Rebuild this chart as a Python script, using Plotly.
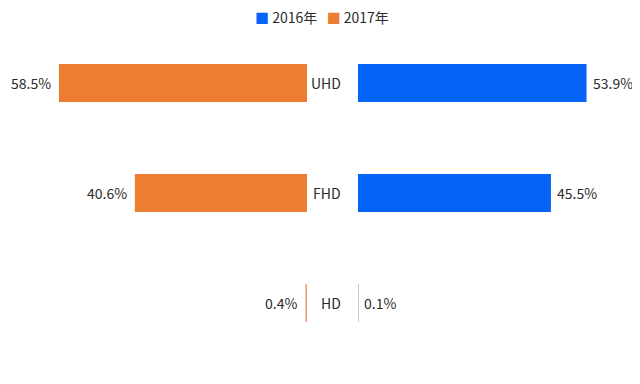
import plotly.graph_objects as go

categories = ["UHD", "FHD", "HD"]
values_2016 = [53.9, 45.5, 0.1]
values_2017 = [58.5, 40.6, 0.4]
series_names = ["2016年", "2017年"]

FONT = "Noto Sans CJK SC, Noto Sans, sans-serif"
BLUE = "#0563F7"
ORANGE = "#ED7D31"
TXT = "#2b2b2b"

# very thin bars render antialiased/light in the reference
blue_colors = [BLUE if v >= 1 else "#c6cad2" for v in values_2016]
orange_colors = [ORANGE if v >= 1 else "#eea37a" for v in values_2017]

fig = go.Figure()
fig.add_trace(go.Bar(
    name=series_names[0], y=categories, x=values_2016, orientation="h",
    marker=dict(color=blue_colors, line=dict(width=0)), xaxis="x2", yaxis="y",
    width=0.345, showlegend=False,
))
fig.add_trace(go.Bar(
    name=series_names[1], y=categories, x=values_2017, orientation="h",
    marker=dict(color=orange_colors, line=dict(width=0)), xaxis="x", yaxis="y",
    width=0.345, showlegend=False,
))

# value labels
for c, v in zip(categories, values_2016):
    fig.add_annotation(x=v, xref="x2", y=c, yref="y", text=f"{v}%", showarrow=False,
                       xanchor="left", xshift=4, font=dict(size=14, color=TXT, family=FONT))
for c, v in zip(categories, values_2017):
    fig.add_annotation(x=v, xref="x", y=c, yref="y", text=f"{v}%", showarrow=False,
                       xanchor="right", xshift=-6, font=dict(size=14, color=TXT, family=FONT))

# category labels
for c in categories:
    fig.add_annotation(x=335 / 640, xref="paper", y=c, yref="y", text=c,
                       showarrow=False, xanchor="right",
                       font=dict(size=14, color=TXT, family=FONT))

# legend
fig.add_annotation(
    x=314 / 640, xref="paper", y=1 - 9 / 384, yref="paper", showarrow=False,
    xanchor="center", yanchor="middle",
    text=(f'<span style="color:{BLUE}">■</span>&nbsp;{series_names[0]}&nbsp;&nbsp;&nbsp;'
          f'<span style="color:{ORANGE}">■</span>&nbsp;{series_names[1]}'),
    font=dict(size=14, color=TXT, family=FONT),
)

fig.update_layout(
    width=640, height=384,
    margin=dict(l=0, r=0, t=0, b=0),
    paper_bgcolor="white", plot_bgcolor="white",
    font=dict(family=FONT, size=14, color=TXT),
    barmode="overlay",
    showlegend=False,
    xaxis=dict(domain=[(299 - 275.6) / 640, 299 / 640], range=[65, 0], visible=False, fixedrange=True),
    xaxis2=dict(domain=[350 / 640, (350 + 275.6) / 640], range=[0, 65], visible=False, fixedrange=True),
    yaxis=dict(type="category", categoryarray=categories, range=[2.809, -0.6818],
               visible=False, fixedrange=True),
)

fig.write_html("out.html")
